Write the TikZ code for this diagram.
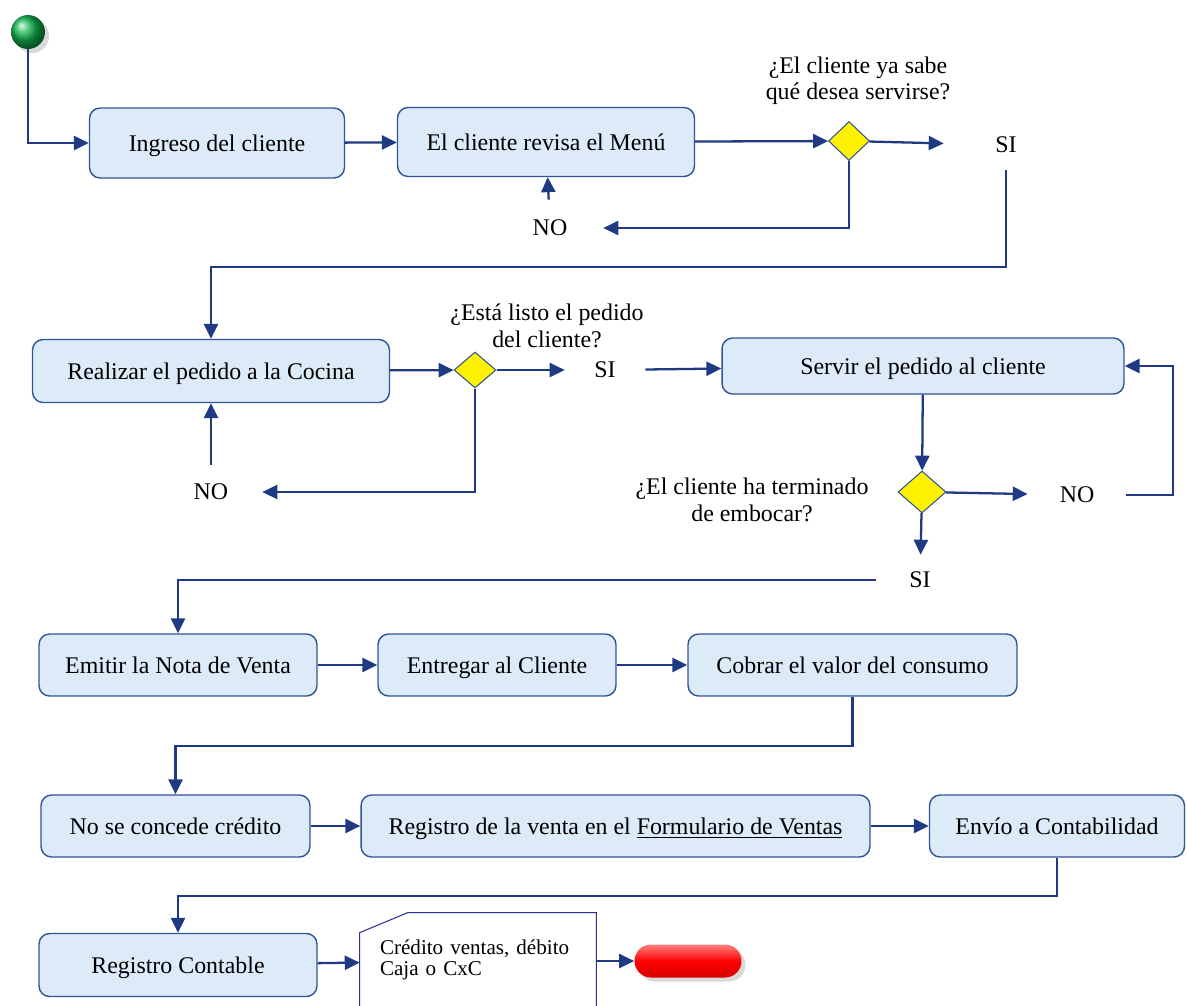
\documentclass[tikz,border=0pt]{standalone}
\usepackage{fontspec}
\setmainfont{Liberation Serif}
\usepackage{tikz}
\usetikzlibrary{shapes.geometric,shapes.misc,arrows.meta,shadows}
\definecolor{boxfill}{RGB}{221,235,248}
\definecolor{boxline}{RGB}{47,85,151}
\definecolor{arrowc}{RGB}{31,58,130}
\definecolor{notec}{RGB}{46,49,146}
\definecolor{ballg}{RGB}{20,185,80}
\tikzset{
  font={\fontsize{13.6pt}{15pt}\selectfont}}

\begin{document}
\begin{tikzpicture}[x=0.02cm, y=-0.02cm, >={Triangle[length=8.5pt, width=8pt]},
  box/.style = {draw=boxline, fill=boxfill, rounded corners=6pt, line width=0.8pt, inner sep=0pt, minimum height=1.24cm, text height=11pt, text depth=1pt},
  dec/.style = {diamond, draw=boxline, fill=yellow, inner sep=0pt, line width=0.6pt},
  lab/.style = {inner sep=0pt},
  qst/.style = {align=center},
  flow/.style = {draw=arrowc, line width=1.3pt, ->},
  start/.style = {circle, minimum size=0.68cm, inner sep=0pt, ball color=ballg, drop shadow={opacity=0.3}},
  stop/.style = {rounded rectangle, minimum width=2.14cm, minimum height=0.66cm, inner sep=0pt, top color=red!50!white, bottom color=red!85!black, middle color=red, drop shadow={opacity=0.3}},
  note/.style = {inner sep=0pt, minimum width=4.72cm, minimum height=1.92cm, text width=3.92cm, align=left, font={\fontsize{12pt}{12pt}\selectfont}}]
\useasboundingbox (0,0) rectangle (1187,1005);
\node[start] (0) at (28,32) {};
\node[box, minimum width=5.1cm, minimum height=1.4cm] (1) at (217,143) {Ingreso del cliente};
\node[box, minimum width=5.94cm, minimum height=1.38cm] (2) at (546,142) {El cliente revisa el Menú};
\node[dec, minimum width=0.82cm, minimum height=0.78cm] (12) at (849,141) {};
\node[qst] (15) at (858,81) {¿El cliente ya sabe\\qué desea servirse?};
\node[lab, minimum width=2.48cm, minimum height=1cm] (13) at (1006,145) {SI};
\node[lab, minimum width=2.12cm, minimum height=1.12cm] (14) at (550,228) {NO};
\node[box, minimum width=7.14cm, minimum height=1.26cm] (3) at (211,371) {Realizar el pedido a la Cocina};
\node[dec, minimum width=0.84cm, minimum height=0.72cm] (16) at (475,370) {};
\node[qst] (19) at (547,326) {¿Está listo el pedido\\del cliente?};
\node[lab, minimum width=1.6cm] (17) at (605,370) {SI};
\node[lab, minimum width=2.04cm, minimum height=1.08cm] (18) at (211,492) {NO};
\node[box, minimum width=8.04cm, minimum height=1.12cm] (4) at (923,366) {Servir el pedido al cliente};
\node[dec, minimum width=0.96cm, minimum height=0.84cm] (20) at (922,492) {};
\node[qst] (23) at (752,500) {¿El cliente ha terminado\\de embocar?};
\node[lab, minimum width=1.96cm] (21) at (1077,495) {NO};
\node[lab, minimum width=1.76cm, minimum height=1cm] (22) at (920,580) {SI};
\node[box, minimum width=5.56cm] (5) at (178,665) {Emitir la Nota de Venta};
\node[box, minimum width=4.76cm] (6) at (497,665) {Entregar al Cliente};
\node[box, minimum width=6.58cm] (7) at (852.5,665) {Cobrar el valor del consumo};
\node[box, minimum width=5.38cm] (8) at (175.5,826) {No se concede crédito};
\node[box, minimum width=10.18cm] (9) at (615.5,826) {Registro de la venta en el \underline{Formulario de Ventas}};
\node[box, minimum width=5.1cm] (10) at (1057,826) {Envío a Contabilidad};
\node[box, minimum width=5.56cm, minimum height=1.26cm] (11) at (178,965) {Registro Contable};
\node[note] (24) at (478,961) {\raisebox{-0.22cm}{\begin{tabular}{@{}l@{}}Crédito ventas, débito\\Caja o CxC\end{tabular}}};
\node[stop] (25) at (688,961) {};
\draw[notec, line width=0.6pt] (24.south west) -- ([yshift=-0.4cm]24.north west) -- ([xshift=0.96cm]24.north west) -- (24.north east) -- (24.south east);

\draw[flow] (0) |- (1);
\draw[flow] (1) -- (2);
\draw[flow] (2) -- (12);
\draw[flow] (12) -- (13);
\draw[flow] (12) |- (14);
\draw[flow] (14) -- (2);
\draw[flow] (13.south) -- ++(0,97) -| (3.north);
\draw[flow] (3) -- (16);
\draw[flow] (16) -- (17);
\draw[flow] (17) -- (4);
\draw[flow] (16) |- (18);
\draw[flow] (18) -- (3);
\draw[flow] (4) -- (20);
\draw[flow] (20) -- (21);
\draw[flow] (21.east) -- ++(47,0) |- (4.east);
\draw[flow] (20) -- (22);
\draw[flow] (22) -| (5);
\draw[flow] (5) -- (6);
\draw[flow] (6) -- (7);
\draw[flow] (7.south) -- ++(0,49) -| (8.north);
\draw[flow] (8) -- (9);
\draw[flow] (9) -- (10);
\draw[flow] (10.south) -- ++(0,38) -| (11.north);
\draw[flow] (11) -- (24);
\draw[flow] (24) -- (25);
\end{tikzpicture}
\end{document}
